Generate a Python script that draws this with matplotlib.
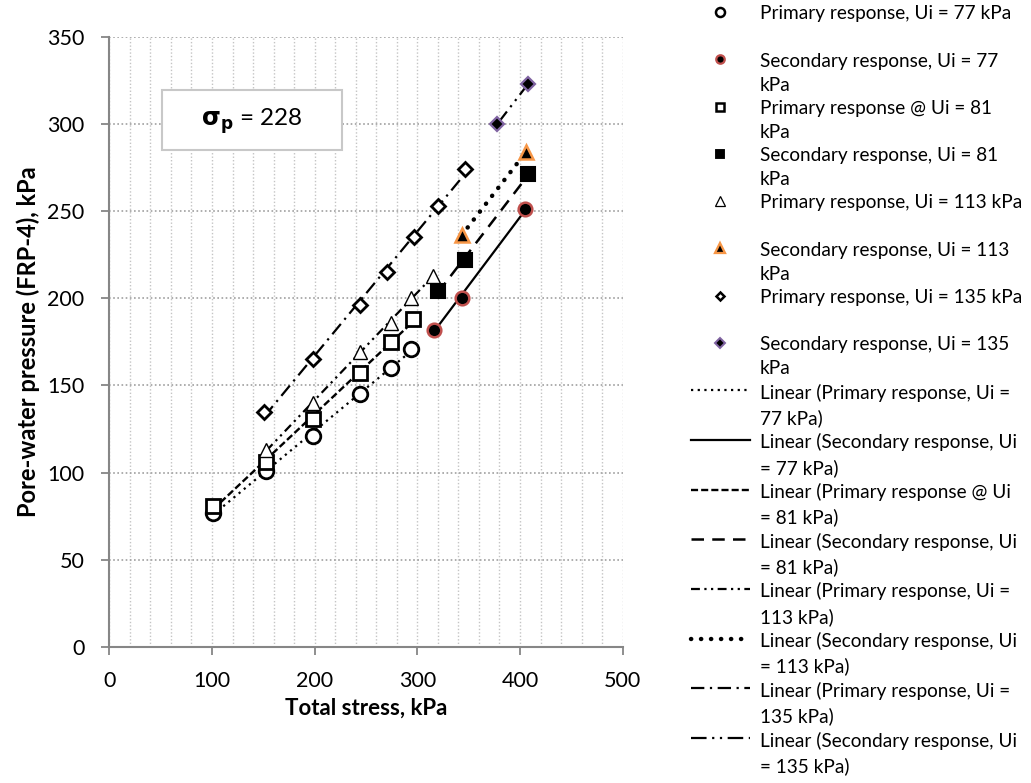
import numpy as np
import matplotlib
matplotlib.use("Agg")
import matplotlib.pyplot as plt
from matplotlib.lines import Line2D
from matplotlib.patches import Rectangle
from matplotlib.ticker import MultipleLocator

plt.rcParams['font.family'] = ['Lato', 'DejaVu Sans']
plt.rcParams['mathtext.fontset'] = 'dejavusans'

# Total stress (kPa) vs pore-water pressure (kPa), FRP-4
p77_x = [101, 153, 198, 244, 274, 294]
p77_y = [77, 101, 121, 145, 160, 171]
s77_x = [316, 343, 405]
s77_y = [182, 200, 251]
p81_x = [101, 153, 198, 244, 274, 296]
p81_y = [81, 106, 131, 157, 175, 188]
s81_x = [320, 346, 408]
s81_y = [204, 222, 271]
p113_x = [153, 198, 244, 274, 294, 315]
p113_y = [113, 140, 169, 186, 200, 213]
s113_x = [343, 406]
s113_y = [236, 284]
p135_x = [151, 198, 244, 270, 297, 320, 346]
p135_y = [135, 165, 196, 215, 235, 253, 274]
s135_x = [378, 408]
s135_y = [300, 323]

series_names = [
    "Primary response, Ui = 77 kPa",
    "Secondary response, Ui = 77 kPa",
    "Primary response @ Ui = 81 kPa",
    "Secondary response, Ui = 81 kPa",
    "Primary response, Ui = 113 kPa",
    "Secondary response, Ui = 113 kPa",
    "Primary response, Ui = 135 kPa",
    "Secondary response, Ui = 135 kPa",
]
# legend text as wrapped in the legend box
marker_labels = [
    "Primary response, Ui = 77 kPa\n ",
    "Secondary response, Ui = 77\nkPa",
    "Primary response @ Ui = 81\nkPa",
    "Secondary response, Ui = 81\nkPa",
    "Primary response, Ui = 113 kPa\n ",
    "Secondary response, Ui = 113\nkPa",
    "Primary response, Ui = 135 kPa\n ",
    "Secondary response, Ui = 135\nkPa",
]
trend_labels = [
    "Linear (Primary response, Ui =\n77 kPa)",
    "Linear (Secondary response, Ui\n= 77 kPa)",
    "Linear (Primary response @ Ui\n= 81 kPa)",
    "Linear (Secondary response, Ui\n= 81 kPa)",
    "Linear (Primary response, Ui =\n113 kPa)",
    "Linear (Secondary response, Ui\n= 113 kPa)",
    "Linear (Primary response, Ui =\n135 kPa)",
    "Linear (Secondary response, Ui\n= 135 kPa)",
]
sigma_p = 228

xs = [p77_x, s77_x, p81_x, s81_x, p113_x, s113_x, p135_x, s135_x]
ys = [p77_y, s77_y, p81_y, s81_y, p113_y, s113_y, p135_y, s135_y]

# marker: (shape, face, edge, size, edge width)
markers = [
    ("o", "white", "black", 10.5, 2.0),
    ("o", "black", "#c0504d", 9.8, 1.8),
    ("s", "white", "black", 9.8, 2.0),
    ("s", "black", "black", 9.8, 1.5),
    ("^", "white", "black", 10.5, 1.0),
    ("^", "black", "#f79646", 10.5, 1.8),
    ("D", "white", "black", 7.0, 2.0),
    ("D", "black", "#8064a2", 7.4, 1.6),
]
# trend line: (linestyle, width, capstyle)
trends = [
    ((0, (1, 2)), 1.6, "butt"),
    ("-", 1.6, "butt"),
    ((0, (3, 1.3)), 1.7, "butt"),
    ((0, (5, 3.3)), 1.8, "butt"),
    ((0, (4, 2, 1, 2, 1, 2)), 1.6, "butt"),
    ((0, (0.05, 2.2)), 3.2, "round"),
    ((0, (6, 2.5, 1, 2.5)), 1.6, "butt"),
    ((0, (7, 2.5, 1, 2.5, 1, 2.5)), 1.6, "butt"),
]

fig = plt.figure(figsize=(10.31, 7.83), dpi=100)
ax = fig.add_axes([0.106, 0.1737, 0.498, 0.7795])

marker_handles = []
trend_handles = []
for x, y, name, (m, fc, ec, ms, mew), (ls, lw, cap) in zip(xs, ys, series_names, markers, trends):
    x = np.asarray(x, float)
    y = np.asarray(y, float)
    h, = ax.plot(x, y, linestyle="none", marker=m, markerfacecolor=fc,
                 markeredgecolor=ec, markersize=ms, markeredgewidth=mew,
                 label=name, zorder=4)
    marker_handles.append(h)
    slope, intercept = np.polyfit(x, y, 1)
    xx = np.array([x.min(), x.max()])
    t, = ax.plot(xx, slope * xx + intercept, color="black", linestyle=ls,
                 linewidth=lw, zorder=3)
    t.set_dash_capstyle(cap)
    t.set_solid_capstyle(cap)
    trend_handles.append(t)

ax.set_xlim(0, 500)
ax.set_ylim(0, 350)
ax.xaxis.set_major_locator(MultipleLocator(100))
ax.xaxis.set_minor_locator(MultipleLocator(20))
ax.yaxis.set_major_locator(MultipleLocator(50))

ax.grid(axis="y", which="major", color="#a0a0a0", linestyle=(0, (1, 1.5)), linewidth=1.2)
ax.grid(axis="x", which="both", color="#c4c4c4", linestyle=(0, (1, 1.5)), linewidth=1.0)
ax.set_axisbelow(True)

for side in ("top", "right"):
    ax.spines[side].set_visible(False)
for side in ("left", "bottom"):
    ax.spines[side].set_color("#868686")
    ax.spines[side].set_linewidth(1.5)
ax.tick_params(which="major", direction="out", length=6, width=1.3, color="#868686",
               labelsize=15.5, labelcolor="black", pad=12)
ax.tick_params(axis="x", which="major", pad=11)
ax.tick_params(which="minor", length=0)

ax.set_xlabel("Total stress, kPa", fontsize=16, fontweight="bold", labelpad=5)
ax.set_ylabel("Pore-water pressure (FRP-4), kPa", fontsize=17, fontweight="bold", labelpad=5)

# annotation box with the preconsolidation stress
ax.add_patch(Rectangle((0.1026, 0.814), 0.350, 0.0985, transform=ax.transAxes,
                       facecolor="white", edgecolor="#c8c8c8", linewidth=1.5, zorder=5))
ax.text(0.278, 0.862, r"$\mathbf{\sigma_p}$ = " + str(sigma_p), transform=ax.transAxes,
        ha="center", va="center", fontsize=17.5, zorder=6)

# legend handles: markers alone, trend lines alone
leg_markers = [Line2D([], [], linestyle="none", marker=h.get_marker(),
                      markerfacecolor=h.get_markerfacecolor(),
                      markeredgecolor=h.get_markeredgecolor(),
                      markersize=h.get_markersize() * 0.62,
                      markeredgewidth=h.get_markeredgewidth() * 0.9)
               for h in marker_handles]
leg_lines = []
for t, (ls, lw, cap) in zip(trend_handles, trends):
    ll = Line2D([], [], color="black", linewidth=lw, dash_capstyle=cap)
    ll.set_linestyle(ls)
    leg_lines.append(ll)

leg = fig.legend(leg_markers + leg_lines, marker_labels + trend_labels,
                 loc="upper left", bbox_to_anchor=(0.667, 0.998), frameon=False,
                 fontsize=13.7, handlelength=3.05, handletextpad=0.55,
                 labelspacing=0.33, borderpad=0.2, borderaxespad=0.0)
for txt in leg.get_texts():
    txt.set_linespacing(1.5)
for col in leg._legend_handle_box.get_children():
    for item in col.get_children():
        item.align = "top"

fig.savefig("out.png", dpi=100)
